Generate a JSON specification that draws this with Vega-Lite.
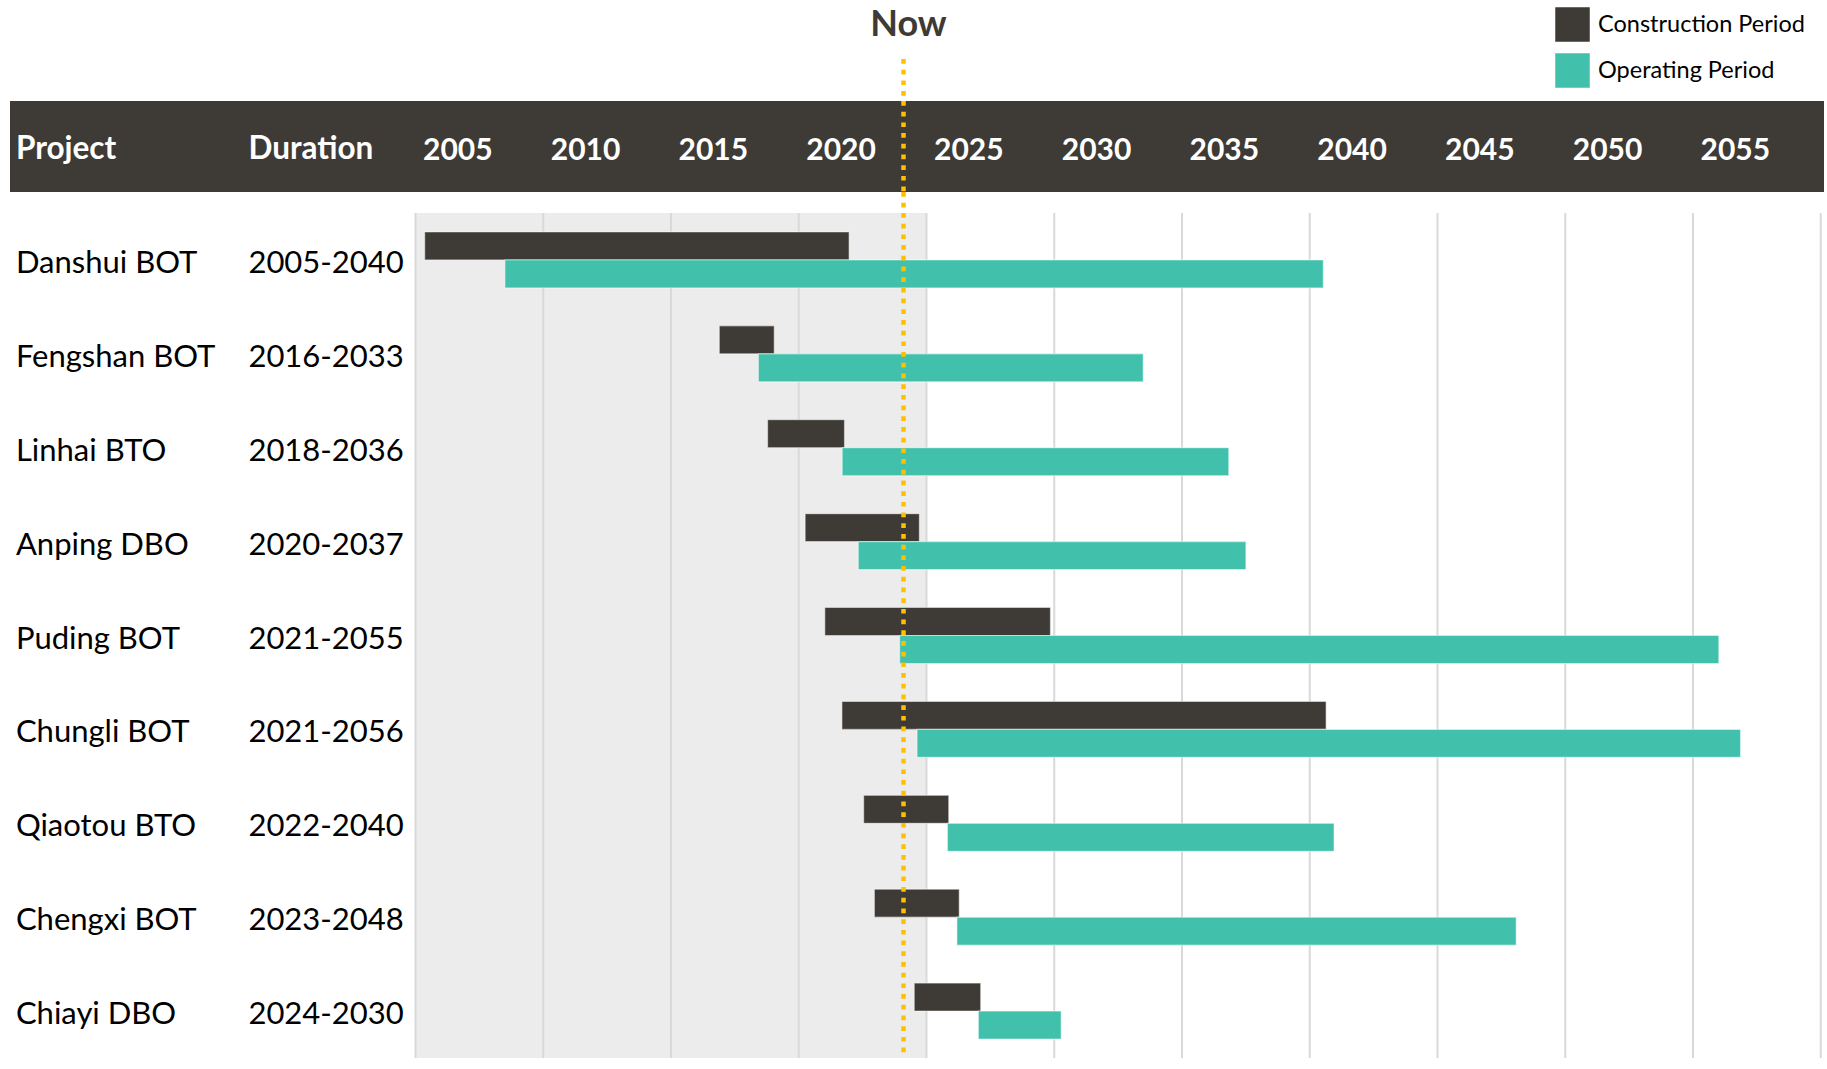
{
  "$schema": "https://vega.github.io/schema/vega-lite/v6.json",
  "autosize": {"type": "pad"},
  "padding": {"left": 10, "top": 0, "right": 3, "bottom": 11},
  "background": "white",
  "spacing": 0,
  "bounds": "flush",
  "config": {"view": {"stroke": null}, "concat": {"spacing": 0}},
  "datasets": {
    "now": [{"label": "Now", "year": 2024.1}],
    "shade": [{"from": 2005, "to": 2025}],
    "grid": [{"year": 2005}, {"year": 2010}, {"year": 2015}, {"year": 2020}, {"year": 2025}, {"year": 2030}, {"year": 2035}, {"year": 2040}, {"year": 2045}, {"year": 2050}, {"year": 2055}, {"year": 2060}],
    "projects": [
      {"project": "Danshui BOT", "duration": "2005-2040"},
      {"project": "Fengshan BOT", "duration": "2016-2033"},
      {"project": "Linhai BTO", "duration": "2018-2036"},
      {"project": "Anping DBO", "duration": "2020-2037"},
      {"project": "Puding BOT", "duration": "2021-2055"},
      {"project": "Chungli BOT", "duration": "2021-2056"},
      {"project": "Qiaotou BTO", "duration": "2022-2040"},
      {"project": "Chengxi BOT", "duration": "2023-2048"},
      {"project": "Chiayi DBO", "duration": "2024-2030"}
    ],
    "bars": [
      {"project": "Danshui BOT", "phase": "Construction Period", "start": 2005.36, "end": 2021.97},
      {"project": "Danshui BOT", "phase": "Operating Period", "start": 2008.5, "end": 2040.53},
      {"project": "Fengshan BOT", "phase": "Construction Period", "start": 2016.89, "end": 2019.04},
      {"project": "Fengshan BOT", "phase": "Operating Period", "start": 2018.42, "end": 2033.48},
      {"project": "Linhai BTO", "phase": "Construction Period", "start": 2018.78, "end": 2021.79},
      {"project": "Linhai BTO", "phase": "Operating Period", "start": 2021.7, "end": 2036.83},
      {"project": "Anping DBO", "phase": "Construction Period", "start": 2020.25, "end": 2024.72},
      {"project": "Anping DBO", "phase": "Operating Period", "start": 2022.33, "end": 2037.5},
      {"project": "Puding BOT", "phase": "Construction Period", "start": 2021.02, "end": 2029.85},
      {"project": "Puding BOT", "phase": "Operating Period", "start": 2023.95, "end": 2056.01},
      {"project": "Chungli BOT", "phase": "Construction Period", "start": 2021.69, "end": 2040.64},
      {"project": "Chungli BOT", "phase": "Operating Period", "start": 2024.63, "end": 2056.86},
      {"project": "Qiaotou BTO", "phase": "Construction Period", "start": 2022.54, "end": 2025.87},
      {"project": "Qiaotou BTO", "phase": "Operating Period", "start": 2025.82, "end": 2040.95},
      {"project": "Chengxi BOT", "phase": "Construction Period", "start": 2022.96, "end": 2026.28},
      {"project": "Chengxi BOT", "phase": "Operating Period", "start": 2026.19, "end": 2048.08},
      {"project": "Chiayi DBO", "phase": "Construction Period", "start": 2024.52, "end": 2027.12},
      {"project": "Chiayi DBO", "phase": "Operating Period", "start": 2027.03, "end": 2030.27}
    ]
  },
  "vconcat": [
    {
      "width": 1814,
      "height": 59,
      "data": {"name": "now"},
      "mark": {"type": "text", "font": "Lato", "fontWeight": "bold", "fontSize": 36, "color": "#3e3a35", "align": "center", "baseline": "alphabetic", "dx": 5, "dy": 6.5},
      "encoding": {
        "x": {"field": "year", "type": "quantitative", "scale": {"domain": [1989.129, 2060.127], "nice": false, "zero": false}, "axis": null},
        "text": {"field": "label"}
      }
    },
    {
      "width": 1814,
      "height": 42,
      "data": {"name": "now"},
      "mark": {"type": "rule", "color": "#ffc000", "strokeWidth": 4.5, "strokeDash": [4.7, 6]},
      "encoding": {
        "x": {"field": "year", "type": "quantitative", "scale": {"domain": [1989.129, 2060.127], "nice": false, "zero": false}, "axis": null}
      }
    },
    {
      "width": 1814,
      "height": 91,
      "view": {"fill": "#3e3a35", "stroke": null},
      "layer": [
        {
          "data": {"name": "now"},
          "mark": {"type": "rule", "color": "#ffc000", "strokeWidth": 4.5, "strokeDash": [4.7, 6]},
          "encoding": {
            "x": {
              "field": "year", "type": "quantitative",
              "scale": {"domain": [1989.129, 2060.127], "nice": false, "zero": false},
              "axis": {
                "orient": "bottom", "values": [2005, 2010, 2015, 2020, 2025, 2030, 2035, 2040, 2045, 2050, 2055],
                "format": "d", "domain": false, "ticks": false, "tickSize": 0, "grid": false,
                "labelAlign": "left", "labelBaseline": "alphabetic", "labelPadding": -32.7, "labelOffset": 7,
                "labelFont": "Lato", "labelFontWeight": "bold", "labelFontSize": 30, "labelColor": "#ffffff",
                "labelOverlap": false, "labelBound": false, "labelFlush": false, "title": null, "zindex": 1
              }
            }
          }
        },
        {
          "data": {"values": [{}]},
          "mark": {"type": "text", "text": "Project", "font": "Lato", "fontWeight": "bold", "fontSize": 31.5, "color": "#ffffff", "align": "left", "baseline": "alphabetic", "dy": 12.8},
          "encoding": {"x": {"datum": 1989.36, "type": "quantitative"}}
        },
        {
          "data": {"values": [{}]},
          "mark": {"type": "text", "text": "Duration", "font": "Lato", "fontWeight": "bold", "fontSize": 31.5, "color": "#ffffff", "align": "left", "baseline": "alphabetic", "dy": 12.8},
          "encoding": {"x": {"datum": 1998.46, "type": "quantitative"}}
        }
      ]
    },
    {
      "width": 1814,
      "height": 21,
      "data": {"name": "now"},
      "mark": {"type": "rule", "color": "#ffc000", "strokeWidth": 4.5, "strokeDash": [4.7, 6]},
      "encoding": {
        "x": {"field": "year", "type": "quantitative", "scale": {"domain": [1989.129, 2060.127], "nice": false, "zero": false}, "axis": null}
      }
    },
    {
      "width": 1814,
      "height": 845,
      "layer": [
        {
          "data": {"name": "shade"},
          "mark": {"type": "rect", "color": "#ececec"},
          "encoding": {
            "x": {"field": "from", "type": "quantitative", "scale": {"domain": [1989.129, 2060.127], "nice": false, "zero": false}, "axis": null},
            "x2": {"field": "to"}
          }
        },
        {
          "data": {"name": "grid"},
          "mark": {"type": "rule", "color": "#d9d9d9", "strokeWidth": 2},
          "encoding": {"x": {"field": "year", "type": "quantitative"}}
        },
        {
          "data": {"name": "bars"},
          "mark": {"type": "bar", "stroke": "#ffffff", "strokeOpacity": 0.45, "strokeWidth": 1.2},
          "encoding": {
            "x": {"field": "start", "type": "quantitative"},
            "x2": {"field": "end"},
            "y": {
              "field": "project", "type": "nominal",
              "scale": {"domain": ["Danshui BOT", "Fengshan BOT", "Linhai BTO", "Anping DBO", "Puding BOT", "Chungli BOT", "Qiaotou BTO", "Chengxi BOT", "Chiayi DBO"], "paddingInner": 0.404, "paddingOuter": 0.202},
              "axis": null
            },
            "yOffset": {"field": "phase", "type": "nominal", "scale": {"domain": ["Construction Period", "Operating Period"], "paddingInner": 0, "paddingOuter": 0}},
            "color": {
              "field": "phase", "type": "nominal",
              "scale": {"domain": ["Construction Period", "Operating Period"], "range": ["#3e3a35", "#41c1ac"]},
              "legend": {
                "orient": "none", "legendX": 1545, "legendY": 7, "title": null, "padding": 0,
                "symbolType": "square", "symbolSize": 1190, "symbolStrokeWidth": 0, "symbolOpacity": 1,
                "labelFont": "Lato", "labelFontSize": 23.5, "labelColor": "#000000", "labelOffset": 8, "rowPadding": 11, "labelLimit": 0
              }
            }
          }
        },
        {
          "data": {"name": "projects"},
          "mark": {"type": "text", "font": "Lato", "fontSize": 31, "color": "#000000", "align": "left", "baseline": "alphabetic", "dy": 13},
          "encoding": {
            "x": {"datum": 1989.36, "type": "quantitative"},
            "y": {"field": "project", "type": "nominal"},
            "text": {"field": "project"}
          }
        },
        {
          "data": {"name": "projects"},
          "mark": {"type": "text", "font": "Lato", "fontSize": 31, "color": "#000000", "align": "left", "baseline": "alphabetic", "dy": 13},
          "encoding": {
            "x": {"datum": 1998.46, "type": "quantitative"},
            "y": {"field": "project", "type": "nominal"},
            "text": {"field": "duration"}
          }
        },
        {
          "data": {"name": "now"},
          "mark": {"type": "rule", "color": "#ffc000", "strokeWidth": 4.5, "strokeDash": [4.7, 6]},
          "encoding": {"x": {"field": "year", "type": "quantitative"}}
        }
      ]
    }
  ]
}
